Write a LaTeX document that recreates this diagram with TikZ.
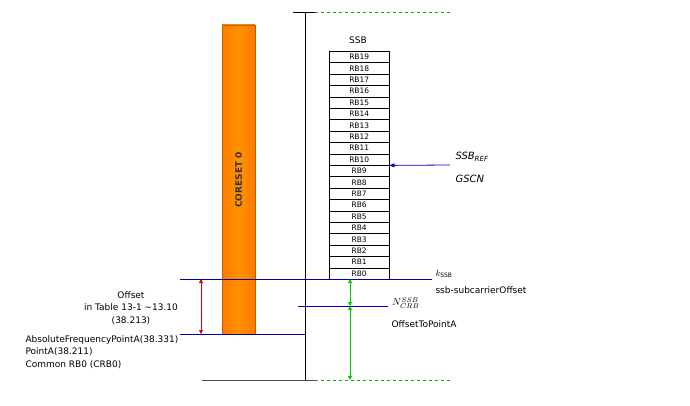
\documentclass[tikz,border=0pt]{standalone}
\usepackage{fontspec}
\setmainfont{DejaVu Sans}
\usetikzlibrary{arrows.meta}
\begin{document}
\begin{tikzpicture}[x=1pt,y=-1pt,font=\fontsize{9}{12.5}\selectfont,
  bl/.style={draw=blue!70!black,line width=0.8pt},
  gd/.style={draw=green!70!black,dashed,line width=0.8pt},
  ga/.style={draw=green!80!black,line width=0.8pt,{Triangle[length=4pt,width=4pt]}-{Triangle[length=4pt,width=4pt]}},
  rb/.style={draw,minimum width=60pt,minimum height=11.4pt,inner sep=0pt,anchor=north west,font=\fontsize{7.5}{8}\selectfont}]
\useasboundingbox (0,0) rectangle (690,406);
\fill[white] (0,0) rectangle (690,406);
% coreset
\shade[left color=orange!95!red,right color=orange!95!red,middle color=orange!85!yellow] (222,25) rectangle (255,334);
\draw[orange!75!black] (222,25) rectangle (255,334);
\node[rotate=90,font=\fontsize{9}{10}\selectfont\bfseries,text=black!80] (cs) at (238.5,180) {CORESET 0};
% axis
\coordinate (vt) at (305,12); \coordinate (vb) at (305,381);
\draw[line width=0.8pt] (vt) -- (vb);
\coordinate (tl) at (293,12); \coordinate (tr) at (315,12); \coordinate (te) at (450,12);
\draw[line width=0.8pt] (tl) -- (tr); \draw[gd] (tr) -- (te);
\coordinate (bl) at (202,380); \coordinate (br) at (315,380); \coordinate (be) at (450,380);
\draw[line width=0.8pt,black!70] (bl) -- (br); \draw[gd] (br) -- (be);
% SSB
\node (ssb) at (358,40) {SSB};
\foreach \i in {0,...,19}{
  \node[rb] (r\i) at (329,{51+(19-\i)*11.4}) {RB\i};
}
\coordinate (gs) at (450,165);
\draw[blue!80!black,line width=0.8pt,-{Triangle[length=5pt,width=4pt]}] (gs) -- (r10.south east);
\node[anchor=west,font=\itshape\fontsize{10}{11}\selectfont] (ref) at (452,157) {SSB$_{\mathit{REF}}$};
\node[anchor=west,font=\itshape\fontsize{10}{11}\selectfont] (gscn) at (452,179) {GSCN};
% blue lines
\coordinate (l1a) at (180,279); \coordinate (l1b) at (432,279);
\draw[bl] (l1a) -- (l1b);
\coordinate (l2a) at (298,306); \coordinate (l2b) at (388,306);
\draw[bl] (l2a) -- (l2b);
\coordinate (l3a) at (180,334); \coordinate (l3b) at (305,334);
\draw[bl] (l3a) -- (l3b);
\node[anchor=west] (k) at (432,274) {$k_{\mathrm{SSB}}$};
\node[anchor=west] (so) at (432,290) {ssb-subcarrierOffset};
\node[anchor=west,inner sep=1pt,font=\fontsize{10}{11}\selectfont] (n) at (391,303) {$N_{CRB}^{SSB}$};
\node[anchor=west] (op) at (388,324) {OffsetToPointA};
% arrows
\coordinate (ra) at (201,279); \coordinate (rbb) at (201,334);
\draw[red!85!black,line width=0.8pt,{Triangle[length=4pt,width=4pt]}-{Triangle[length=4pt,width=4pt]}] (ra) -- (rbb);
\coordinate (g1) at (350,279); \coordinate (g2) at (350,306); \coordinate (g3) at (350,380);
\draw[ga] (g1) -- (g2); \draw[ga] (g2) -- (g3);
% texts
\node[align=center] (off) at (131,308) {Offset\\in Table 13-1 \textasciitilde13.10\\(38.213)};
\node[align=left,anchor=north west] (pa) at (22,332) {AbsoluteFrequencyPointA(38.331)\\PointA(38.211)\\Common RB0 (CRB0)};
\end{tikzpicture}
\end{document}
